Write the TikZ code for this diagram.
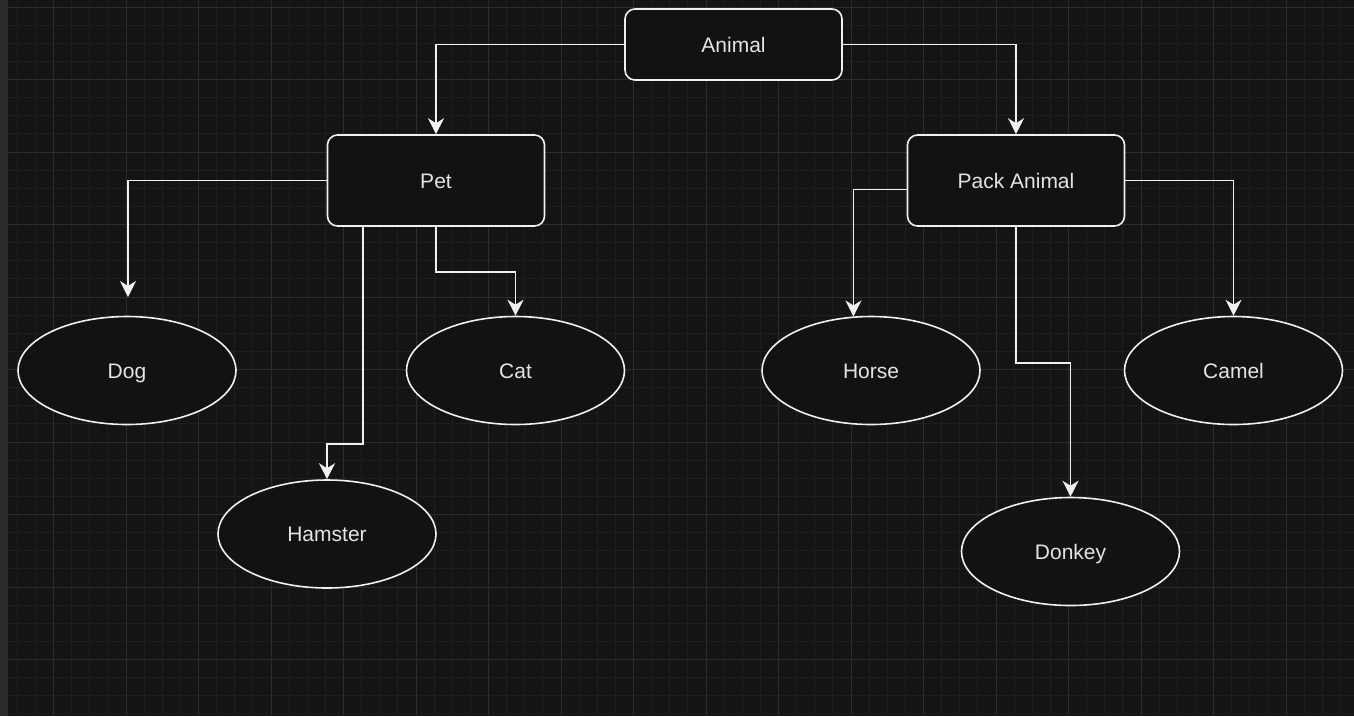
\documentclass[tikz,border=0pt]{standalone}
\usepackage{fontspec}
\setmainfont{Liberation Sans}
\usetikzlibrary{arrows.meta,shapes.geometric,calc}
\definecolor{bg}{HTML}{141414}
\definecolor{gridminor}{HTML}{1E1E1E}
\definecolor{gridmajor}{HTML}{2C2C2C}
\definecolor{strip}{HTML}{2A2B2D}
\definecolor{edge}{HTML}{F0F0F0}
\definecolor{txt}{HTML}{E4E4E4}
\definecolor{nodefill}{HTML}{121212}
\begin{document}
\begin{tikzpicture}[x=1pt,y=-1pt,
  lbl/.style={text=txt,font=\fontsize{21}{24}\selectfont,
    text height=15pt,text depth=0pt},
  box/.style={lbl,draw=edge,line width=1.6pt,fill=nodefill,rounded corners=10pt,
    minimum width=217pt,minimum height=#1,inner sep=0pt},
  box/.default=91pt,
  oval/.style={lbl,ellipse,draw=edge,line width=1.6pt,fill=nodefill,
    minimum width=218pt,minimum height=108pt,inner sep=0pt},
  arr/.style={draw=edge,line width=1.6pt,
    -{Stealth[length=16pt,width=16pt,inset=5pt]}}]
% background and grid
\fill[bg] (0,0) rectangle (1354,716);
\useasboundingbox (0,0) rectangle (1354,716);
\foreach \i in {-2,...,74} {
  \draw[gridminor,line width=0.8pt] ({53.5+18.125*\i},0) -- ({53.5+18.125*\i},716);
}
\foreach \j in {0,...,39} {
  \draw[gridminor,line width=0.8pt] (0,{7+18.125*\j}) -- (1354,{7+18.125*\j});
}
\foreach \i in {0,...,18} {
  \draw[gridmajor,line width=1pt] ({53.5+72.5*\i},0) -- ({53.5+72.5*\i},716);
}
\foreach \j in {0,...,9} {
  \draw[gridmajor,line width=1pt] (0,{7+72.5*\j}) -- (1354,{7+72.5*\j});
}
\fill[strip] (0,0) rectangle (8,716);
% nodes
\node[box=71pt] (animal) at (733.5,44.5) {Animal};
\node[box] (pet) at (436,180.5) {Pet};
\node[box] (pack) at (1016,180.5) {Pack Animal};
\node[oval] (dog) at (127,370.5) {Dog};
\node[oval] (cat) at (515.5,370.5) {Cat};
\node[oval] (hamster) at (327,534) {Hamster};
\node[oval] (horse) at (871,370.5) {Horse};
\node[oval] (camel) at (1233.5,370.5) {Camel};
\node[oval] (donkey) at (1070.5,551.5) {Donkey};
% helper coordinates
\coordinate (dogend) at (128,297);
\coordinate (hamstart) at ($(pet.south west)+(36,0)$);
\coordinate (horsestart) at ($(pack.west)+(0,9)$);
% connectors
\draw[arr] (animal.west) -| (pet.north);
\draw[arr] (animal.east) -| (pack.north);
\draw[arr] (pet.west) -| (dogend);
\draw[arr] (hamstart) -- ++(0,217) -| (hamster.north);
\draw[arr] (pet.south) -- ++(0,45) -| (cat.north);
\draw[arr] (horsestart) -| (horse.108.7);
\draw[arr] (pack.south) -- ++(0,136) -| (donkey.north);
\draw[arr] (pack.east) -| (camel.north);
\end{tikzpicture}
\end{document}
